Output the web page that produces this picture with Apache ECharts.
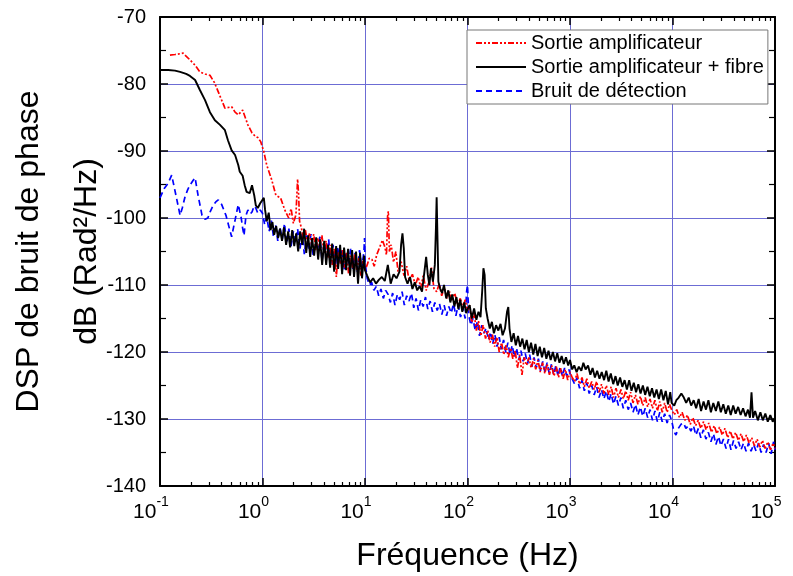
<!DOCTYPE html>
<html>
<head>
<meta charset="utf-8">
<title>DSP de bruit de phase</title>
<script src="https://cdn.jsdelivr.net/npm/echarts@6.0.0/dist/echarts.min.js"></script>
<style>
  html, body { margin: 0; padding: 0; background: #fff; }
  #chart { width: 793px; height: 576px; }
</style>
</head>
<body>
<div id="chart"></div>
<script>
// Sortie amplificateur  [frequence Hz, dB]
const ampliData = [
  [0.125, -75.7], [0.14, -75.6], [0.168, -75.4], [0.196, -76.4], [0.22, -77.2], [0.245, -78.2], [0.275, -78.5],
  [0.307, -78.7], [0.34, -79.8], [0.385, -81.8], [0.43, -83.6], [0.5, -83.4], [0.54, -84.2], [0.58, -84.6],
  [0.64, -83.9], [0.72, -86.1], [0.79, -87.3], [0.85, -87.8], [0.9, -88.0], [0.96, -88.6], [0.99, -88.8],
  [1.03, -90.1], [1.1, -92.1], [1.23, -94.3], [1.35, -96.6], [1.5, -97.0], [1.65, -98.8], [1.8, -100.0],
  [1.9, -98.6], [2.0, -100.8], [2.12, -99.5], [2.2, -94.2], [2.25, -96.5], [2.3, -100.5],
  [2.4, -101.5], [2.5, -103.2], [2.62, -101.8], [2.75, -103.6], [2.88, -102.2], [3.02, -104.0], [3.16, -102.4],
  [3.31, -104.8], [3.47, -103.0], [3.63, -104.4], [3.8, -102.6], [3.98, -105.2], [4.17, -103.4], [4.37, -106.0],
  [4.57, -104.0], [4.79, -107.0], [5.01, -104.6], [5.25, -108.8], [5.5, -105.0], [5.75, -106.8], [6.03, -104.8],
  [6.31, -107.4], [6.61, -105.2], [6.92, -108.4], [7.24, -105.6], [7.59, -107.6], [7.94, -105.4], [8.32, -107.8],
  [8.71, -106.0], [9.12, -108.6], [9.55, -106.4], [10.0, -107.8],
  [10.5, -107.0], [11.0, -106.0], [11.7, -106.2], [12.3, -107.2], [13.0, -105.5], [13.8, -104.5], [14.8, -103.3],
  [15.6, -104.3], [16.2, -105.5], [16.6, -99.8], [16.9, -99.0], [17.3, -105.0], [18.0, -104.0], [19.0, -106.6],
  [20.0, -105.0], [21.0, -108.0], [22.5, -106.5], [24.0, -108.6], [25.5, -107.2], [27.0, -109.4], [29.0, -108.4],
  [31.0, -110.0], [33.0, -108.8], [35.0, -110.4], [37.0, -108.6], [39.5, -110.8], [42.0, -109.6], [44.5, -107.4],
  [47.0, -110.5], [50.0, -111.0], [53.0, -109.8], [56.0, -111.6], [59.5, -110.4], [63.0, -112.0], [67.0, -111.0],
  [71.0, -112.4], [75.0, -111.2], [80.0, -113.0], [85.0, -112.0], [90.0, -113.4], [95.0, -112.2], [100, -113.8],
  [105, -113.0], [110, -115.6], [116, -114.2], [122, -116.8], [128, -115.4], [135, -117.6], [142, -116.0],
  [150, -118.0], [158, -116.8], [166, -118.6], [175, -117.4], [184, -119.2], [194, -117.8], [204, -120.0],
  [215, -118.6], [226, -120.4], [238, -119.0], [250, -120.8], [263, -119.4], [277, -121.0], [292, -119.8],
  [307, -122.4], [323, -120.4], [340, -123.4], [358, -120.8], [377, -122.0], [397, -120.8], [418, -122.4],
  [440, -121.0], [463, -122.6], [487, -121.2], [513, -123.0], [540, -121.6], [568, -123.2], [598, -121.8],
  [630, -123.4], [663, -122.0], [698, -123.6], [735, -122.2], [773, -123.8], [814, -122.4], [857, -124.0],
  [902, -122.6], [950, -124.2], [1000, -123.0],
  [1050, -123.8], [1110, -124.4], [1170, -123.2], [1240, -124.8], [1310, -123.8], [1380, -125.2], [1460, -124.0],
  [1540, -125.4], [1630, -124.4], [1720, -125.6], [1820, -124.4], [1920, -126.0], [2030, -124.8], [2140, -126.2],
  [2260, -125.0], [2390, -126.4], [2520, -125.2], [2660, -126.8], [2810, -125.4], [2970, -126.8], [3140, -125.6],
  [3310, -127.0], [3500, -125.8], [3700, -127.2], [3900, -126.0], [4120, -127.6], [4350, -126.4], [4600, -127.8],
  [4860, -126.6], [5130, -128.0], [5420, -126.8], [5720, -128.2], [6040, -127.0], [6380, -128.4], [6740, -127.2],
  [7120, -128.8], [7520, -127.4], [7940, -129.0], [8390, -127.6], [8860, -129.0], [9360, -127.8], [9800, -128.6],
  [10400, -129.4], [11000, -128.6], [11700, -129.8], [12400, -129.0], [13200, -130.2], [14000, -129.4],
  [14900, -130.8], [15800, -129.8], [16800, -131.0], [17800, -130.2], [18900, -131.4], [20100, -130.4],
  [21300, -131.6], [22600, -130.6], [24000, -132.0], [25500, -131.0], [27100, -132.2], [28800, -131.2],
  [30600, -132.4], [32500, -131.4], [34500, -132.8], [36600, -131.8], [38900, -133.0], [41300, -132.0],
  [43900, -133.2], [46600, -132.2], [49500, -133.4], [52600, -132.4], [55800, -133.6], [59300, -132.8],
  [63000, -134.0], [66900, -133.0], [71000, -134.2], [75400, -133.2], [80100, -134.4], [85100, -133.4],
  [90300, -134.6], [95900, -133.6], [100000, -134.4]
];

// Sortie amplificateur + fibre
const fibreData = [
  [0.1, -77.9], [0.12, -77.9], [0.14, -78.0], [0.157, -78.2], [0.18, -78.5], [0.196, -78.8], [0.22, -79.4],
  [0.245, -80.9], [0.275, -82.4], [0.307, -84.2], [0.343, -85.4], [0.385, -86.1], [0.43, -86.9], [0.46, -88.4],
  [0.5, -89.9], [0.54, -90.6], [0.58, -92.1], [0.6, -93.1], [0.64, -93.7], [0.67, -95.1], [0.7, -96.1],
  [0.75, -96.3], [0.79, -95.1], [0.83, -96.6], [0.86, -98.1], [0.9, -98.5], [0.95, -97.8], [0.99, -98.0],
  [1.03, -97.0], [1.06, -98.8],
  [1.1, -100.5], [1.15, -99.2], [1.2, -101.8], [1.25, -100.6], [1.3, -102.5], [1.36, -101.2], [1.42, -103.0],
  [1.48, -101.6], [1.55, -103.4], [1.62, -101.4], [1.7, -104.0], [1.78, -102.0], [1.86, -104.4], [1.95, -101.8],
  [2.04, -104.2], [2.13, -102.3], [2.23, -105.0], [2.33, -102.0], [2.44, -104.0], [2.55, -101.6], [2.67, -105.2],
  [2.79, -102.6], [2.92, -105.8], [3.05, -103.0], [3.19, -105.6], [3.34, -102.9], [3.49, -106.2], [3.65, -103.2],
  [3.82, -107.0], [4.0, -103.4], [4.18, -107.0], [4.37, -104.0], [4.57, -107.4], [4.78, -103.8], [5.0, -108.0],
  [5.23, -104.2], [5.47, -107.6], [5.72, -104.0], [5.98, -108.4], [6.25, -104.4], [6.54, -107.8], [6.84, -104.6],
  [7.15, -108.6], [7.48, -104.8], [7.82, -108.8], [8.18, -105.0], [8.55, -109.8], [8.94, -105.2], [9.35, -109.0],
  [9.78, -105.6], [10.0, -107.8],
  [10.5, -108.6], [11.2, -109.6], [12.0, -109.0], [12.8, -109.8], [13.7, -109.2], [14.6, -108.8], [15.6, -109.4],
  [16.7, -107.0], [17.8, -109.8], [19.0, -108.4], [20.3, -109.0], [21.7, -108.0], [22.5, -104.0], [23.2, -102.3],
  [23.9, -104.5], [24.6, -108.8], [26.0, -109.8], [27.5, -108.8], [29.0, -110.6], [30.6, -109.6], [32.3, -110.8],
  [34.1, -110.2], [36.0, -111.0], [38.0, -108.0], [39.5, -105.8], [41.0, -108.5], [42.5, -110.0], [44.0, -107.5],
  [46.0, -109.5], [48.0, -107.0], [49.2, -101.5], [50.0, -96.9], [50.8, -102.0], [52.0, -109.5], [54.0, -110.5],
  [56.5, -111.2], [59.0, -110.0], [62.0, -112.0], [65.0, -110.8], [68.0, -112.6], [71.0, -111.4], [74.5, -113.2],
  [78.0, -111.8], [81.5, -113.6], [85.0, -112.2], [89.0, -114.0], [93.0, -112.6], [97.0, -114.2], [100, -113.6],
  [105, -113.0], [110, -115.0], [116, -113.5], [122, -115.2], [128, -114.0], [134, -114.8], [139, -111.0],
  [143, -107.5], [147, -108.5], [151, -113.5], [157, -115.0], [165, -116.5], [173, -115.5], [181, -117.2],
  [190, -116.0], [200, -116.8], [210, -115.8], [220, -117.5], [232, -116.5], [243, -114.0], [250, -113.3],
  [257, -116.5], [268, -118.5], [282, -117.2], [296, -119.0], [311, -117.6], [326, -119.2], [343, -118.0],
  [360, -119.6], [378, -118.2], [397, -120.0], [417, -118.6], [438, -120.4], [460, -118.8], [483, -120.6],
  [507, -119.2], [533, -120.8], [560, -119.4], [588, -121.0], [617, -119.8], [648, -121.2], [681, -120.0],
  [715, -121.4], [751, -120.2], [789, -121.6], [829, -120.6], [870, -121.8], [914, -120.8], [960, -122.0],
  [1000, -121.2],
  [1050, -122.6], [1100, -122.0], [1160, -123.0], [1220, -122.2], [1290, -122.8], [1350, -121.6], [1420, -122.6],
  [1500, -122.0], [1580, -123.4], [1660, -122.4], [1750, -123.8], [1840, -122.8], [1940, -124.0], [2040, -123.0],
  [2150, -124.2], [2260, -122.8], [2380, -124.4], [2500, -123.2], [2640, -124.8], [2780, -123.6], [2920, -125.0],
  [3080, -123.8], [3240, -125.2], [3410, -124.2], [3590, -125.6], [3780, -124.2], [3980, -125.8], [4190, -124.6],
  [4410, -126.0], [4640, -124.8], [4880, -126.2], [5140, -125.0], [5410, -126.4], [5700, -125.2], [6000, -126.6],
  [6310, -125.4], [6640, -126.8], [6990, -125.6], [7360, -127.0], [7750, -125.6], [8160, -127.2], [8590, -125.8],
  [9040, -127.8], [9510, -126.0], [9800, -127.6],
  [10400, -128.0], [10900, -127.2], [11500, -126.8], [12200, -126.2], [12900, -126.8], [13600, -127.6],
  [14400, -126.8], [15200, -128.0], [16100, -127.2], [17000, -128.4], [18000, -127.0], [19000, -128.8],
  [20100, -127.4], [21200, -128.6], [22400, -127.2], [23700, -129.0], [25000, -127.6], [26500, -128.8],
  [28000, -127.4], [29600, -129.0], [31300, -127.8], [33100, -129.2], [35000, -128.0], [37000, -129.4],
  [39100, -128.0], [41300, -129.2], [43700, -128.2], [46200, -129.4], [48800, -128.4], [51600, -129.6],
  [54500, -128.6], [57000, -129.8], [59000, -126.0], [61000, -129.8], [64000, -128.8], [68000, -130.2],
  [72000, -129.0], [76000, -130.2], [80500, -129.2], [85000, -130.4], [90000, -129.4], [95000, -130.4],
  [100000, -129.8]
];

// Bruit de détection
const detectData = [
  [0.1, -97.0], [0.11, -95.6], [0.12, -94.8], [0.13, -93.6], [0.143, -96.6], [0.157, -99.6], [0.165, -98.5],
  [0.175, -96.9], [0.186, -95.8], [0.196, -95.1], [0.21, -94.4], [0.22, -94.0], [0.235, -96.6], [0.257, -99.6],
  [0.275, -100.2], [0.293, -100.0], [0.31, -99.0], [0.33, -98.1], [0.35, -97.6], [0.37, -97.3], [0.4, -98.0],
  [0.44, -99.6], [0.48, -101.8], [0.5, -102.8], [0.52, -101.5], [0.54, -100.3], [0.58, -98.0], [0.62, -100.0],
  [0.64, -101.5], [0.66, -102.6], [0.69, -99.6], [0.72, -98.8], [0.76, -99.4], [0.79, -99.1], [0.83, -98.2],
  [0.86, -98.5], [0.9, -99.3], [0.95, -98.8], [1.0, -99.3],
  [1.05, -101.0], [1.1, -99.8], [1.16, -102.0], [1.22, -100.4], [1.28, -102.8], [1.34, -101.0], [1.41, -103.4],
  [1.48, -101.4], [1.56, -103.2], [1.64, -100.8], [1.72, -103.8], [1.81, -101.6], [1.9, -104.2], [2.0, -102.0],
  [2.1, -103.6], [2.2, -101.6], [2.32, -104.6], [2.44, -102.4], [2.56, -105.4], [2.69, -102.6], [2.83, -104.8],
  [2.97, -102.4], [3.12, -105.6], [3.28, -103.2], [3.45, -104.6], [3.63, -102.8], [3.81, -106.4], [4.0, -103.6],
  [4.2, -105.8], [4.42, -103.2], [4.64, -106.8], [4.88, -104.0], [5.13, -107.4], [5.39, -104.2], [5.66, -106.6],
  [5.95, -104.6], [6.25, -107.8], [6.57, -105.0], [6.9, -106.8], [7.25, -104.6], [7.62, -107.6], [8.0, -105.2],
  [8.41, -108.0], [8.84, -104.8], [9.29, -107.6], [9.76, -105.0], [9.9, -103.0], [10.0, -106.5],
  [10.5, -109.0], [11.0, -110.0], [11.6, -109.6], [12.2, -110.8], [12.9, -110.2], [13.6, -111.6], [14.3, -110.6],
  [15.1, -112.0], [15.9, -110.8], [16.8, -111.4], [17.7, -112.6], [18.6, -111.2], [19.6, -113.0], [20.7, -111.4],
  [21.8, -112.2], [23.0, -111.0], [24.2, -113.0], [25.5, -111.6], [26.9, -112.4], [28.4, -111.2], [29.9, -113.4],
  [31.5, -112.0], [33.2, -113.8], [35.0, -112.2], [36.9, -113.2], [38.9, -111.8], [41.0, -113.6], [43.2, -112.4],
  [45.5, -114.0], [48.0, -112.6], [50.6, -113.8], [53.3, -112.8], [56.2, -114.4], [59.2, -113.0], [62.4, -114.6],
  [65.8, -113.2], [69.3, -114.2], [73.0, -112.8], [77.0, -114.6], [81.1, -113.0], [85.5, -114.8], [90.1, -113.4],
  [95.0, -115.0], [98.0, -111.0], [100, -110.0],
  [103, -114.6], [108, -116.0], [113, -115.0], [119, -116.8], [125, -115.4], [131, -117.6], [138, -116.0],
  [145, -117.2], [152, -116.4], [160, -118.2], [168, -117.0], [176, -118.8], [185, -117.4], [194, -119.2],
  [204, -117.8], [214, -119.6], [225, -118.2], [236, -120.0], [248, -118.6], [260, -120.4], [273, -119.0],
  [287, -120.8], [301, -119.4], [316, -121.2], [332, -119.8], [349, -121.4], [366, -120.2], [385, -121.8],
  [404, -120.4], [424, -122.2], [446, -120.8], [468, -122.4], [492, -121.0], [516, -122.8], [542, -121.4],
  [570, -123.0], [598, -121.6], [628, -123.2], [660, -121.8], [693, -123.4], [728, -122.0], [764, -123.6],
  [803, -122.2], [843, -123.6], [885, -122.4], [930, -123.6], [977, -122.6], [1000, -123.2],
  [1050, -124.0], [1110, -124.8], [1170, -123.8], [1240, -125.4], [1310, -124.2], [1380, -125.8], [1460, -124.6],
  [1540, -126.2], [1630, -125.0], [1720, -126.4], [1820, -125.2], [1920, -126.8], [2030, -125.6], [2140, -127.0],
  [2260, -125.8], [2390, -127.4], [2520, -126.2], [2660, -127.8], [2810, -126.6], [2970, -128.0], [3140, -126.8],
  [3310, -128.4], [3500, -127.2], [3700, -128.6], [3900, -127.6], [4120, -129.0], [4350, -127.8], [4600, -129.4],
  [4860, -128.2], [5130, -129.6], [5420, -128.4], [5720, -129.8], [6040, -128.6], [6380, -130.2], [6740, -128.8],
  [7120, -130.4], [7520, -129.0], [7940, -130.4], [8390, -129.2], [8860, -130.6], [9360, -129.4], [9800, -130.2],
  [10300, -131.8], [10800, -132.4], [11400, -131.4], [12100, -130.8], [12800, -130.6], [13500, -131.4],
  [14300, -131.0], [15100, -131.8], [16000, -131.0], [16900, -132.4], [17900, -131.4], [18900, -132.8],
  [20000, -131.6], [21200, -133.0], [22400, -132.0], [23700, -133.4], [25100, -132.2], [26500, -133.8],
  [28100, -132.6], [29700, -134.0], [31400, -133.0], [33300, -134.4], [35200, -133.0], [37200, -134.6],
  [39400, -133.2], [41700, -134.4], [44100, -133.4], [46600, -134.6], [49300, -133.6], [52200, -134.8],
  [55200, -133.6], [58400, -134.8], [61800, -133.8], [65400, -134.8], [69100, -133.6], [73200, -135.0],
  [77400, -133.8], [81900, -135.0], [86600, -133.6], [91600, -135.2], [96900, -133.4], [100000, -134.6]
];

const seriesNames = ['Sortie amplificateur', 'Sortie amplificateur + fibre', 'Bruit de détection'];

// graduations secondaires 2..9 de chaque décade (axe auxiliaire en log10)
const decades = [0.1, 1, 10, 100, 1000, 10000];
const minorSteps = [2, 3, 4, 5, 6, 7, 8, 9];
const minorTickPos = [];
decades.forEach(d => minorSteps.forEach(m => minorTickPos.push(Math.log10(d * m))));

const fontName = '"Liberation Sans", Arial, sans-serif';
const gridColor = '#6c6cd4';

function xAxisMajor(position) {
  return {
    type: 'log',
    logBase: 10,
    min: 0.1,
    max: 100000,
    position: position,
    axisLine: { show: true, onZero: false, lineStyle: { color: '#000', width: 2 } },
    axisTick: { show: true, inside: true, length: 8, lineStyle: { color: '#000', width: 1.5 } },
    axisLabel: { show: false },
    splitLine: { show: false }
  };
}

function xAxisMinor(position) {
  return {
    type: 'value',
    min: -1,
    max: 5,
    position: position,
    axisLine: { show: false, onZero: false },
    axisTick: { show: true, inside: true, length: 4, customValues: minorTickPos, lineStyle: { color: '#000', width: 1.2 } },
    axisLabel: { show: false },
    splitLine: { show: false }
  };
}

const bottomMajor = xAxisMajor('bottom');
bottomMajor.axisLabel = {
  show: true,
  margin: 9,
  padding: [0, 18, 0, 0],
  formatter: v => '{b|10}{s|' + Math.round(Math.log10(v)) + '}',
  rich: {
    b: { fontSize: 21, fontFamily: fontName, color: '#000', lineHeight: 28, verticalAlign: 'bottom' },
    s: { fontSize: 14, fontFamily: fontName, color: '#000', lineHeight: 28, verticalAlign: 'top' }
  }
};
bottomMajor.splitLine = { show: true, lineStyle: { color: gridColor, width: 1 } };
bottomMajor.name = 'Fréquence (Hz)';
bottomMajor.nameLocation = 'middle';
bottomMajor.nameGap = 54;
bottomMajor.nameMoveOverlap = false;
bottomMajor.nameTextStyle = { fontSize: 32, fontFamily: fontName, color: '#000' };

function yAxisBase(position) {
  return {
    type: 'value',
    min: -140,
    max: -70,
    interval: 10,
    position: position,
    axisLine: { show: true, onZero: false, lineStyle: { color: '#000', width: 2 } },
    axisTick: { show: true, inside: true, length: 8, lineStyle: { color: '#000', width: 1.5 } },
    minorTick: { show: true, splitNumber: 2, length: 6, lineStyle: { color: '#000', width: 1.2 } },
    axisLabel: { show: false },
    splitLine: { show: false }
  };
}

const yLeft = yAxisBase('left');
yLeft.axisLabel = { show: true, margin: 14, fontSize: 20, fontFamily: fontName, color: '#000' };
yLeft.splitLine = { show: true, lineStyle: { color: gridColor, width: 1 } };
yLeft.name = 'DSP de bruit de phase\ndB (Rad²/Hz)';
yLeft.nameLocation = 'middle';
yLeft.nameRotate = 90;
yLeft.nameGap = 44;
yLeft.nameMoveOverlap = false;
yLeft.nameTextStyle = { fontSize: 32, fontFamily: fontName, color: '#000', lineHeight: 58 };

const chart = echarts.init(document.getElementById('chart'), null, { renderer: 'canvas' });

const option = {
  animation: false,
  backgroundColor: '#fff',
  grid: { left: 160, right: 18, top: 17, bottom: 90, containLabel: false, outerBoundsMode: 'none' },
  legend: {
    data: seriesNames,
    orient: 'vertical',
    left: 467,
    top: 30,
    itemWidth: 50,
    itemHeight: 14,
    itemGap: 4,
    padding: [3, 4, 3, 8],
    backgroundColor: '#fff',
    borderColor: '#777',
    borderWidth: 1,
    borderRadius: 0,
    itemStyle: { opacity: 0 },
    textStyle: { fontSize: 20, fontFamily: fontName, color: '#000' }
  },
  xAxis: [bottomMajor, xAxisMinor('bottom'), xAxisMajor('top'), xAxisMinor('top')],
  yAxis: [yLeft, yAxisBase('right')],
  series: [
    {
      name: seriesNames[2],
      type: 'line',
      data: detectData,
      symbol: 'none',
      color: '#0000ff',
      lineStyle: { color: '#0000ff', width: 1.7, type: [6, 4] }
    },
    {
      name: seriesNames[0],
      type: 'line',
      data: ampliData,
      symbol: 'none',
      color: '#ff0000',
      lineStyle: { color: '#ff0000', width: 1.7, type: [6, 2, 2, 2, 2, 2] }
    },
    {
      name: seriesNames[1],
      type: 'line',
      data: fibreData,
      symbol: 'none',
      color: '#000',
      lineStyle: { color: '#000', width: 1.9 }
    }
  ]
};

chart.setOption(option);
</script>
</body>
</html>
